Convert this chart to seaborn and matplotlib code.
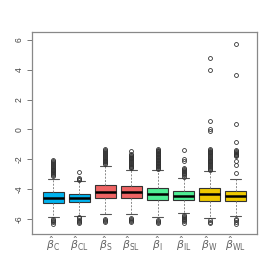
import numpy as np
import pandas as pd
import matplotlib
matplotlib.use("Agg")
import matplotlib.pyplot as plt
import seaborn as sns

groups = ["C", "CL", "S", "SL", "I", "IL", "W", "WL"]
tick_labels = [r"$\hat{\beta}_{\mathrm{%s}}$" % g for g in groups]
colors = ["#00B2EE", "#00B2EE", "#EE6363", "#EE6363",
          "#4EEE94", "#4EEE94", "#EEC900", "#EEC900"]

q1 = [-4.93, -4.89, -4.58, -4.58, -4.75, -4.75, -4.78, -4.82]
med = [-4.56, -4.58, -4.20, -4.22, -4.33, -4.45, -4.33, -4.47]
q3 = [-4.22, -4.29, -3.69, -3.80, -3.91, -4.13, -3.95, -4.11]
whis_lo = [-5.87, -5.78, -5.67, -5.67, -5.89, -5.62, -5.95, -5.78]
whis_hi = [-3.29, -3.45, -2.42, -2.69, -2.69, -3.22, -2.78, -3.29]

out_up = {
    "C": [-3.12, -3.05, -2.98, -2.92, -2.86, -2.80, -2.74, -2.68, -2.62, -2.56,
          -2.50, -2.44, -2.38, -2.32, -2.26, -2.20, -2.14, -2.07],
    "CL": [-3.36, -3.31, -3.26, -2.87],
    "S": [-2.32, -2.26, -2.20, -2.14, -2.08, -2.02, -1.96, -1.90, -1.84, -1.78,
          -1.72, -1.66, -1.60, -1.54, -1.47, -1.40, -1.30],
    "SL": [-2.60, -2.54, -2.48, -2.42, -2.36, -2.30, -2.24, -2.18, -2.12, -2.06,
           -2.00, -1.94, -1.88, -1.82, -1.76, -1.70, -1.62, -1.47],
    "I": [-2.62, -2.57, -2.52, -2.47, -2.42, -2.37, -2.32, -2.27, -2.22, -2.17,
          -2.12, -2.07, -2.02, -1.97, -1.92, -1.87, -1.82, -1.77, -1.72, -1.67,
          -1.62, -1.57, -1.52, -1.47, -1.42, -1.37, -1.30],
    "IL": [-3.15, -3.08, -3.00, -2.93, -2.85, -2.78, -2.70, -2.62, -2.55,
           -2.10, -1.95, -1.40],
    "W": [-2.68, -2.62, -2.56, -2.50, -2.44, -2.38, -2.32, -2.26, -2.20, -2.14,
          -2.08, -2.02, -1.96, -1.90, -1.84, -1.78, -1.72, -1.66, -1.60, -1.54,
          -1.48, -1.42, -1.36, -1.30, -0.12, 0.02, 0.60, 4.00, 4.78],
    "WL": [-2.91, -2.40, -2.11, -1.80, -1.74, -1.68, -1.62, -1.56, -1.50,
           -1.44, -1.38, -0.85, 0.35, 3.65, 5.70],
}
out_lo = {
    "C": [-6.02, -6.08, -6.15, -6.22, -6.30],
    "CL": [-5.88, -5.95, -6.03, -6.10, -6.18, -6.27],
    "S": [-5.97, -6.05, -6.13, -6.22],
    "SL": [-5.90, -5.98, -6.06, -6.14, -6.22],
    "I": [-6.05, -6.12, -6.20, -6.28],
    "IL": [-5.72, -5.78, -5.85, -5.92, -6.00, -6.08, -6.16, -6.25],
    "W": [-6.08, -6.17, -6.27],
    "WL": [-5.98, -6.07, -6.20, -6.33],
}


def sample_for(i, g):
    lo_o = sorted(out_lo[g])
    up_o = sorted(out_up[g])
    m = max(len(lo_o), len(up_o)) + 2
    vals = (lo_o + [whis_lo[i]] + [q1[i]] * (m - len(lo_o) - 1)
            + [q1[i]] + [med[i]] * (m - 1) + [med[i]]
            + [q3[i]] * (m - 1) + [q3[i]]
            + [q3[i]] * (m - len(up_o) - 1) + [whis_hi[i]] + up_o)
    return vals


rows = []
for i, g in enumerate(groups):
    for v in sample_for(i, g):
        rows.append((g, v))
df = pd.DataFrame(rows, columns=["group", "value"])

sns.set_style("white")
plt.rcParams["font.family"] = ["Liberation Sans", "DejaVu Sans"]
plt.rcParams["mathtext.fontset"] = "dejavusans"

fig = plt.figure(figsize=(2.74, 2.74), dpi=100)
ax = fig.add_axes([32 / 274, 1 - 234 / 274, 225 / 274, 202 / 274])

sns.boxplot(
    data=df, x="group", y="value", hue="group", order=groups,
    hue_order=groups, palette=colors, width=0.8, legend=False,
    linewidth=0.8, linecolor="#333333", saturation=1,
    flierprops=dict(marker="o", markerfacecolor="none",
                    markeredgecolor="#333333", markersize=2.8,
                    markeredgewidth=0.6),
    whiskerprops=dict(linestyle=(0, (2, 1.5)), color="#888888", linewidth=0.7),
    capprops=dict(color="#555555", linewidth=0.8),
    medianprops=dict(color="black", linewidth=1.8),
    ax=ax,
)

ax.set_xlim(-0.82, 7.82)
ax.set_ylim(-7.0, 6.53)
ax.set_yticks([-6, -4, -2, 0, 2, 4, 6])
ax.set_yticklabels(["-6", "-4", "-2", "0", "2", "4", "6"], rotation=90,
                   va="center", fontsize=6.2, color="#444444")
ax.set_xticks(range(len(groups)))
ax.set_xticklabels(tick_labels, fontsize=7.8, color="#666666")
ax.tick_params(axis="y", length=3.5, width=0.7, color="#777777", pad=2.5, left=True)
ax.tick_params(axis="x", length=0, pad=0.5)
ax.set_xlabel("")
ax.set_ylabel("")
for s in ax.spines.values():
    s.set_color("#888888")
    s.set_linewidth(0.9)

fig.savefig("out.png", dpi=100, facecolor="white")
